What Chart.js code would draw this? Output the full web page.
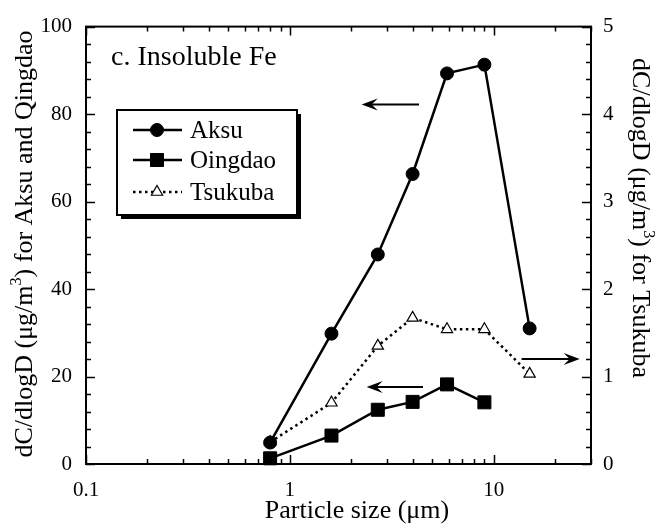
<!DOCTYPE html>
<html>
<head>
<meta charset="utf-8">
<script src="https://cdn.jsdelivr.net/npm/chart.js@4/dist/chart.umd.min.js"></script>
<style>
  html, body { margin: 0; padding: 0; background: #fff; }
  #box { position: relative; width: 657px; height: 529px; }
</style>
</head>
<body>
<div id="box"><canvas id="myChart" width="657" height="529"></canvas></div>
<script>
// particle size (um) of each impactor stage
var sizes = [0.8, 1.6, 2.7, 4.0, 5.9, 9.0, 15];
var qingdaoSizes = [0.8, 1.6, 2.7, 4.0, 5.9, 9.0];

// dC/dlogD (ug/m3)
var aksu = [4.9, 29.8, 47.9, 66.3, 89.3, 91.3, 31.0];
var qingdao = [1.3, 6.5, 12.4, 14.2, 18.2, 14.1];
var tsukuba = [0.25, 0.70, 1.35, 1.67, 1.54, 1.54, 1.03];

var xTickLabels = [0.1, 1, 10];
var leftTicks = [0, 20, 40, 60, 80, 100];
var rightTicks = [0, 1, 2, 3, 4, 5];

var FONT = "'Liberation Serif', 'Times New Roman', serif";

function pts(xs, ys) {
    var out = [];
    for (var i = 0; i < ys.length; i++) {
        out.push({ x: xs[i], y: ys[i] });
    }
    return out;
}

// text with a raised "3" in it, drawn centred at (cx, cy) with rotation
function supText(ctx, parts, cx, cy, size, rot) {
    ctx.save();
    ctx.translate(cx, cy);
    ctx.rotate(rot);
    var total = 0;
    parts.forEach(function (p) {
        ctx.font = (p[1] ? size * 0.62 : size) + "px " + FONT;
        total += ctx.measureText(p[0]).width;
    });
    var x = -total / 2;
    ctx.textBaseline = "middle";
    ctx.textAlign = "left";
    ctx.fillStyle = "#000";
    parts.forEach(function (p) {
        ctx.font = (p[1] ? size * 0.62 : size) + "px " + FONT;
        ctx.fillText(p[0], x, p[1] ? -size * 0.32 : 0);
        x += ctx.measureText(p[0]).width;
    });
    ctx.restore();
}

function arrow(ctx, x0, x1, y) {
    // shaft from x0 to x1, head at x0
    var dir = x1 > x0 ? 1 : -1;
    ctx.beginPath();
    ctx.moveTo(x0 + dir * 8, y);
    ctx.lineTo(x1, y);
    ctx.lineWidth = 2;
    ctx.stroke();
    ctx.beginPath();
    ctx.moveTo(x0, y);
    ctx.lineTo(x0 + dir * 16, y - 6);
    ctx.lineTo(x0 + dir * 10, y);
    ctx.lineTo(x0 + dir * 16, y + 6);
    ctx.closePath();
    ctx.fill();
}

var framePlugin = {
    id: 'frame',
    beforeDatasetsDraw: function (chart) {
        var ctx = chart.ctx;
        var a = chart.chartArea;
        var xs = chart.scales.x, ys = chart.scales.y, y2 = chart.scales.y2;
        ctx.save();
        ctx.strokeStyle = "#000";
        ctx.fillStyle = "#000";
        ctx.lineWidth = 2;
        ctx.strokeRect(a.left, a.top, a.right - a.left, a.bottom - a.top);

        ctx.lineWidth = 1.5;
        ctx.beginPath();
        // log ticks along top and bottom
        for (var d = 0.1; d < 20; d *= 10) {
            for (var m = 1; m <= 9; m++) {
                var v = d * m;
                if (v > 30) break;
                var px = Math.round(xs.getPixelForValue(v)) + 0.5;
                var len = (m === 1) ? 9 : 5;
                ctx.moveTo(px, a.bottom); ctx.lineTo(px, a.bottom - len);
                ctx.moveTo(px, a.top); ctx.lineTo(px, a.top + len);
            }
        }
        // left axis
        for (var t = 0; t <= 100; t += 4) {
            var py = Math.round(ys.getPixelForValue(t)) + 0.5;
            var l = (t % 20 === 0) ? 9 : 5;
            ctx.moveTo(a.left, py); ctx.lineTo(a.left + l, py);
        }
        // right axis
        for (var k = 0; k <= 25; k++) {
            var pr = Math.round(y2.getPixelForValue(k * 0.2)) + 0.5;
            var lr = (k % 5 === 0) ? 9 : 5;
            ctx.moveTo(a.right, pr); ctx.lineTo(a.right - lr, pr);
        }
        ctx.stroke();
        ctx.restore();
    },
    afterDraw: function (chart) {
        var ctx = chart.ctx;
        var xs = chart.scales.x, ys = chart.scales.y, y2 = chart.scales.y2;
        ctx.save();
        ctx.strokeStyle = "#000";
        ctx.fillStyle = "#000";

        // arrows telling which axis each curve belongs to
        arrow(ctx, xs.getPixelForValue(2.25), xs.getPixelForValue(4.3), ys.getPixelForValue(82.2));
        arrow(ctx, xs.getPixelForValue(2.38), xs.getPixelForValue(4.5), ys.getPixelForValue(17.6));
        arrow(ctx, xs.getPixelForValue(26.4), xs.getPixelForValue(13.7), y2.getPixelForValue(1.2));

        // panel label
        ctx.font = "28px " + FONT;
        ctx.textBaseline = "middle";
        ctx.textAlign = "left";
        ctx.fillText("c. Insoluble Fe", 111, 58);

        // axis titles
        ctx.font = "26px " + FONT;
        ctx.textAlign = "center";
        ctx.fillText("Particle size (\u03bcm)", 357, 511);
        supText(ctx, [["dC/dlogD (\u03bcg/m", 0], ["3", 1], [") for Aksu and Qingdao", 0]], 25, 244, 26, -Math.PI / 2);
        supText(ctx, [["dC/dlogD (\u03bcg/m", 0], ["3", 1], [") for Tsukuba", 0]], 640, 218, 26, Math.PI / 2);

        // legend box with drop shadow
        var bx = 117, by = 110, bw = 180, bh = 105;
        ctx.fillRect(bx + 4, by + 4, bw, bh);
        ctx.fillStyle = "#fff";
        ctx.fillRect(bx, by, bw, bh);
        ctx.lineWidth = 2;
        ctx.strokeRect(bx, by, bw, bh);

        var rows = [130, 160, 192];
        chart.data.datasets.forEach(function (ds, i) {
            var ry = rows[i];
            ctx.save();
            ctx.strokeStyle = "#000";
            ctx.lineWidth = ds.borderWidth;
            ctx.setLineDash(ds.borderDash || []);
            ctx.beginPath();
            ctx.moveTo(133, ry);
            ctx.lineTo(182, ry);
            ctx.stroke();
            ctx.setLineDash([]);
            ctx.fillStyle = ds.pointBackgroundColor;
            ctx.lineWidth = ds.pointBorderWidth;
            Chart.helpers.drawPoint(ctx, {
                pointStyle: ds.pointStyle,
                radius: ds.pointRadius,
                rotation: 0,
                borderWidth: ds.pointBorderWidth
            }, 157, ry);
            ctx.fillStyle = "#000";
            ctx.font = "25px " + FONT;
            ctx.textAlign = "left";
            ctx.textBaseline = "middle";
            ctx.fillText(ds.label, 190, ry + 1);
            ctx.restore();
        });
        ctx.restore();
    }
};

var ctx = document.getElementById('myChart').getContext('2d');

var chart = new Chart(ctx, {
    type: 'line',
    data: {
        datasets: [{
            label: "Aksu",
            data: pts(sizes, aksu),
            yAxisID: 'y',
            borderColor: '#000',
            borderWidth: 2.5,
            pointStyle: 'circle',
            pointRadius: 6.5,
            pointBackgroundColor: '#000',
            pointBorderColor: '#000',
            pointBorderWidth: 1,
            clip: false
        }, {
            label: "Oingdao",
            data: pts(qingdaoSizes, qingdao),
            yAxisID: 'y',
            borderColor: '#000',
            borderWidth: 2.5,
            pointStyle: 'rect',
            pointRadius: 9.2,
            pointBackgroundColor: '#000',
            pointBorderColor: '#000',
            pointBorderWidth: 1,
            clip: false
        }, {
            label: "Tsukuba",
            data: pts(sizes, tsukuba),
            yAxisID: 'y2',
            borderColor: '#000',
            borderWidth: 2.5,
            borderDash: [2.5, 3.5],
            pointStyle: 'triangle',
            pointRadius: 6.5,
            pointBackgroundColor: '#fff',
            pointBorderColor: '#000',
            pointBorderWidth: 1.2,
            clip: false
        }]
    },
    options: {
        responsive: false,
        animation: false,
        devicePixelRatio: 1,
        layout: { padding: { top: 19, left: 0, right: 0, bottom: 0 } },
        plugins: {
            legend: { display: false },
            tooltip: { enabled: false }
        },
        elements: { line: { tension: 0, fill: false } },
        scales: {
            x: {
                type: 'logarithmic',
                min: 0.1,
                max: 30,
                position: 'bottom',
                grid: { display: false, drawTicks: false },
                border: { display: false },
                afterBuildTicks: function (scale) {
                    scale.ticks = xTickLabels.map(function (v) { return { value: v }; });
                },
                afterFit: function (scale) { scale.height = 65; },
                ticks: {
                    color: '#000',
                    padding: 14,
                    maxRotation: 0,
                    autoSkip: false,
                    font: { family: FONT, size: 21 },
                    callback: function (v) { return String(v); }
                }
            },
            y: {
                type: 'linear',
                min: 0,
                max: 100,
                position: 'left',
                grid: { display: false, drawTicks: false },
                border: { display: false },
                afterBuildTicks: function (scale) {
                    scale.ticks = leftTicks.map(function (v) { return { value: v }; });
                },
                afterFit: function (scale) { scale.width = 86; },
                ticks: {
                    color: '#000',
                    padding: 14,
                    font: { family: FONT, size: 21 }
                }
            },
            y2: {
                type: 'linear',
                min: 0,
                max: 5,
                position: 'right',
                grid: { display: false, drawTicks: false },
                border: { display: false },
                afterBuildTicks: function (scale) {
                    scale.ticks = rightTicks.map(function (v) { return { value: v }; });
                },
                afterFit: function (scale) { scale.width = 66; },
                ticks: {
                    color: '#000',
                    padding: 12,
                    font: { family: FONT, size: 21 }
                }
            }
        }
    },
    plugins: [framePlugin]
});
</script>
</body>
</html>
